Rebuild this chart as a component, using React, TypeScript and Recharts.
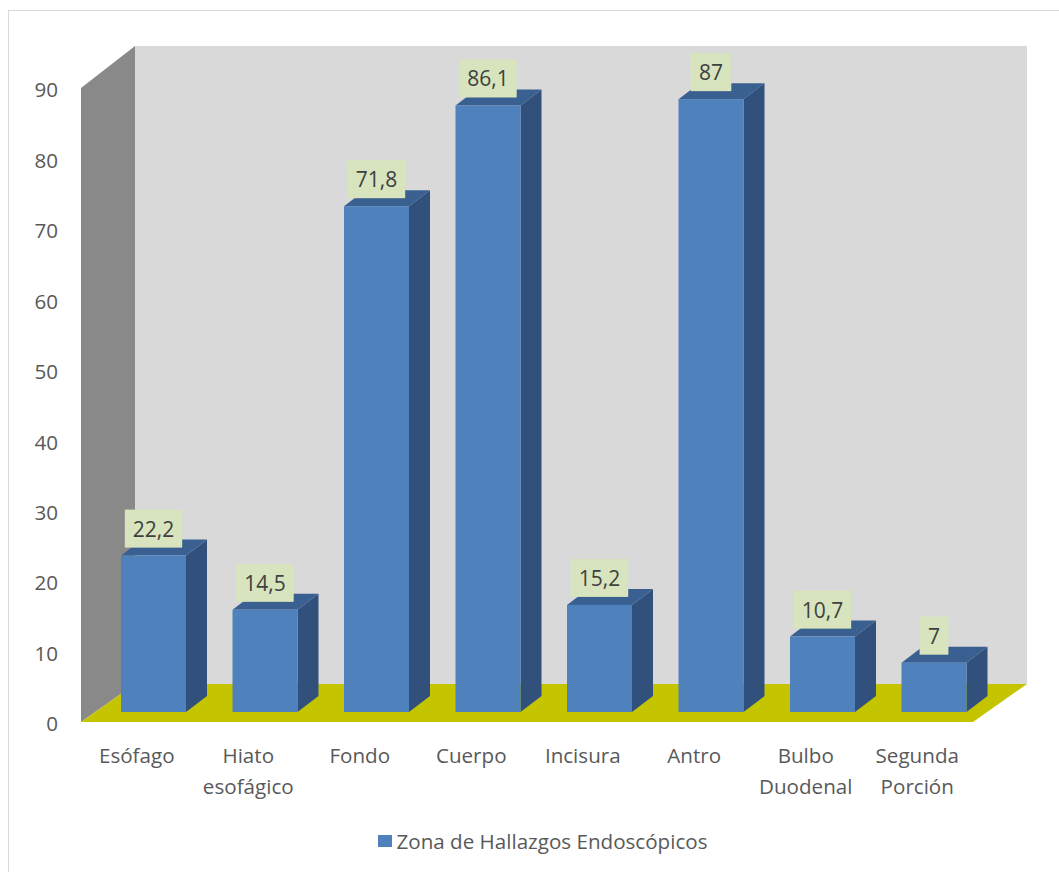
import React from 'react'
import { BarChart, Bar, XAxis, YAxis, Legend, LabelList } from 'recharts'

const categories = ['Esófago', 'Hiato esofágico', 'Fondo', 'Cuerpo', 'Incisura', 'Antro', 'Bulbo Duodenal', 'Segunda Porción']
const hallazgos = [22.2, 14.5, 71.8, 86.1, 15.2, 87, 10.7, 7]
const yTicks = [0, 10, 20, 30, 40, 50, 60, 70, 80, 90]
const seriesName = 'Zona de Hallazgos Endoscópicos'

const data = categories.map((zona, i) => ({ zona, valor: hallazgos[i] }))

const W = 1059
const H = 872
const PLOT_LEFT = 81
const PLOT_RIGHT = 973
const PLOT_TOP = 88
const PLOT_BOTTOM = 722
const Y_AXIS_W = 60
const X_AXIS_H = 60

// depth of the back wall / floor
const WALL_DX = 54
const WALL_TOP_DY = 42
const FLOOR_DY = 38
// bars sit a bit behind the front edge of the floor
const BAR_DX = 17
const BAR_DY = -10
const BAR_DEPTH_X = 21
const BAR_DEPTH_Y = 16

const FONT = '"Open Sans", "Noto Sans", sans-serif'
const TEXT = '#595959'
const FS = 20.6

const fmt = (v: number) => String(v).replace('.', ',')

function Walls() {
  const bx = PLOT_LEFT + WALL_DX
  const bTop = PLOT_TOP - WALL_TOP_DY
  const bBottom = PLOT_BOTTOM - FLOOR_DY
  return (
    <svg width={W} height={H} style={{ position: 'absolute', left: 0, top: 0 }}>
      <rect x={8.5} y={10.5} width={W} height={H} fill="#fff" stroke="#d9d9d9" />
      <rect x={bx} y={bTop} width={PLOT_RIGHT - PLOT_LEFT} height={bBottom - bTop} fill="#d9d9d9" />
      <polygon
        points={`${PLOT_LEFT},${PLOT_TOP} ${bx},${bTop} ${bx},${bBottom} ${PLOT_LEFT},${PLOT_BOTTOM}`}
        fill="#898989"
      />
      <polygon
        points={`${PLOT_LEFT},${PLOT_BOTTOM} ${bx},${bBottom} ${PLOT_RIGHT + WALL_DX},${bBottom} ${PLOT_RIGHT},${PLOT_BOTTOM}`}
        fill="#c4c400"
      />
    </svg>
  )
}

function Bar3D(props: any) {
  const { x, y, width, height } = props
  if (height == null || height <= 0) return null
  const fx = x + BAR_DX
  const fy = y + BAR_DY
  const dx = BAR_DEPTH_X
  const dy = BAR_DEPTH_Y
  return (
    <g>
      <polygon
        points={`${fx + width},${fy} ${fx + width + dx},${fy - dy} ${fx + width + dx},${fy + height - dy} ${fx + width},${fy + height}`}
        fill="#31517c"
      />
      <polygon
        points={`${fx},${fy} ${fx + width},${fy} ${fx + width + dx},${fy - dy} ${fx + dx},${fy - dy}`}
        fill="#3a6091"
      />
      <rect x={fx} y={fy} width={width} height={height} fill="#4f81bd" />
    </g>
  )
}

function ValueLabel(props: any) {
  const { x, y, width, value } = props
  const txt = fmt(value)
  let tw = 0
  for (const c of txt) tw += c === ',' ? 5 : 11.8
  const bw = tw + 17
  const bh = 38
  const cx = x + BAR_DX + width / 2
  const bottom = y + BAR_DY - 8
  return (
    <g>
      <rect x={cx - bw / 2} y={bottom - bh} width={bw} height={bh} fill="#d7e4bd" />
      <text x={cx} y={bottom - 11} textAnchor="middle" fontFamily={FONT} fontSize={21} fill="#404040">
        {txt}
      </text>
    </g>
  )
}

function CategoryTick(props: any) {
  const { x, y, payload } = props
  const words = String(payload.value).split(' ')
  return (
    <text x={x} y={y} textAnchor="middle" fontFamily={FONT} fontSize={FS} fill={TEXT}>
      {words.map((w, i) => (
        <tspan key={i} x={x} dy={i === 0 ? 33 : 31}>
          {w}
        </tspan>
      ))}
    </text>
  )
}

function LegendContent() {
  return (
    <div
      style={{
        display: 'flex',
        justifyContent: 'center',
        alignItems: 'center',
        fontFamily: FONT,
        fontSize: FS,
        color: TEXT,
        paddingLeft: 26,
      }}
    >
      <span style={{ display: 'inline-block', width: 14, height: 12, background: '#4f81bd', marginRight: 5 }} />
      <span>{seriesName}</span>
    </div>
  )
}

export default function App() {
  return (
    <div style={{ position: 'absolute', left: 0, top: 0, width: W, height: H }}>
      <Walls />
      <div style={{ position: 'absolute', left: 0, top: 0 }}>
        <BarChart
          width={W}
          height={H}
          data={data}
          margin={{
            top: PLOT_TOP,
            right: W - PLOT_RIGHT,
            left: PLOT_LEFT - Y_AXIS_W,
            bottom: H - PLOT_BOTTOM - X_AXIS_H,
          }}
        >
          <XAxis
            dataKey="zona"
            axisLine={false}
            tickLine={false}
            height={X_AXIS_H}
            interval={0}
            tick={<CategoryTick />}
          />
          <YAxis
            domain={[0, 90]}
            ticks={yTicks}
            width={Y_AXIS_W}
            axisLine={false}
            tickLine={false}
            tickMargin={17}
            tick={{ fill: TEXT, fontSize: FS, fontFamily: FONT, dy: 2 }}
          />
          <Legend
            layout="horizontal"
            verticalAlign="middle"
            align="center"
            wrapperStyle={{ top: 827, left: 0, width: W }}
            content={<LegendContent />}
          />
          <Bar dataKey="valor" name={seriesName} barSize={65} shape={<Bar3D />} isAnimationActive={false}>
            <LabelList dataKey="valor" content={<ValueLabel />} />
          </Bar>
        </BarChart>
      </div>
    </div>
  )
}
